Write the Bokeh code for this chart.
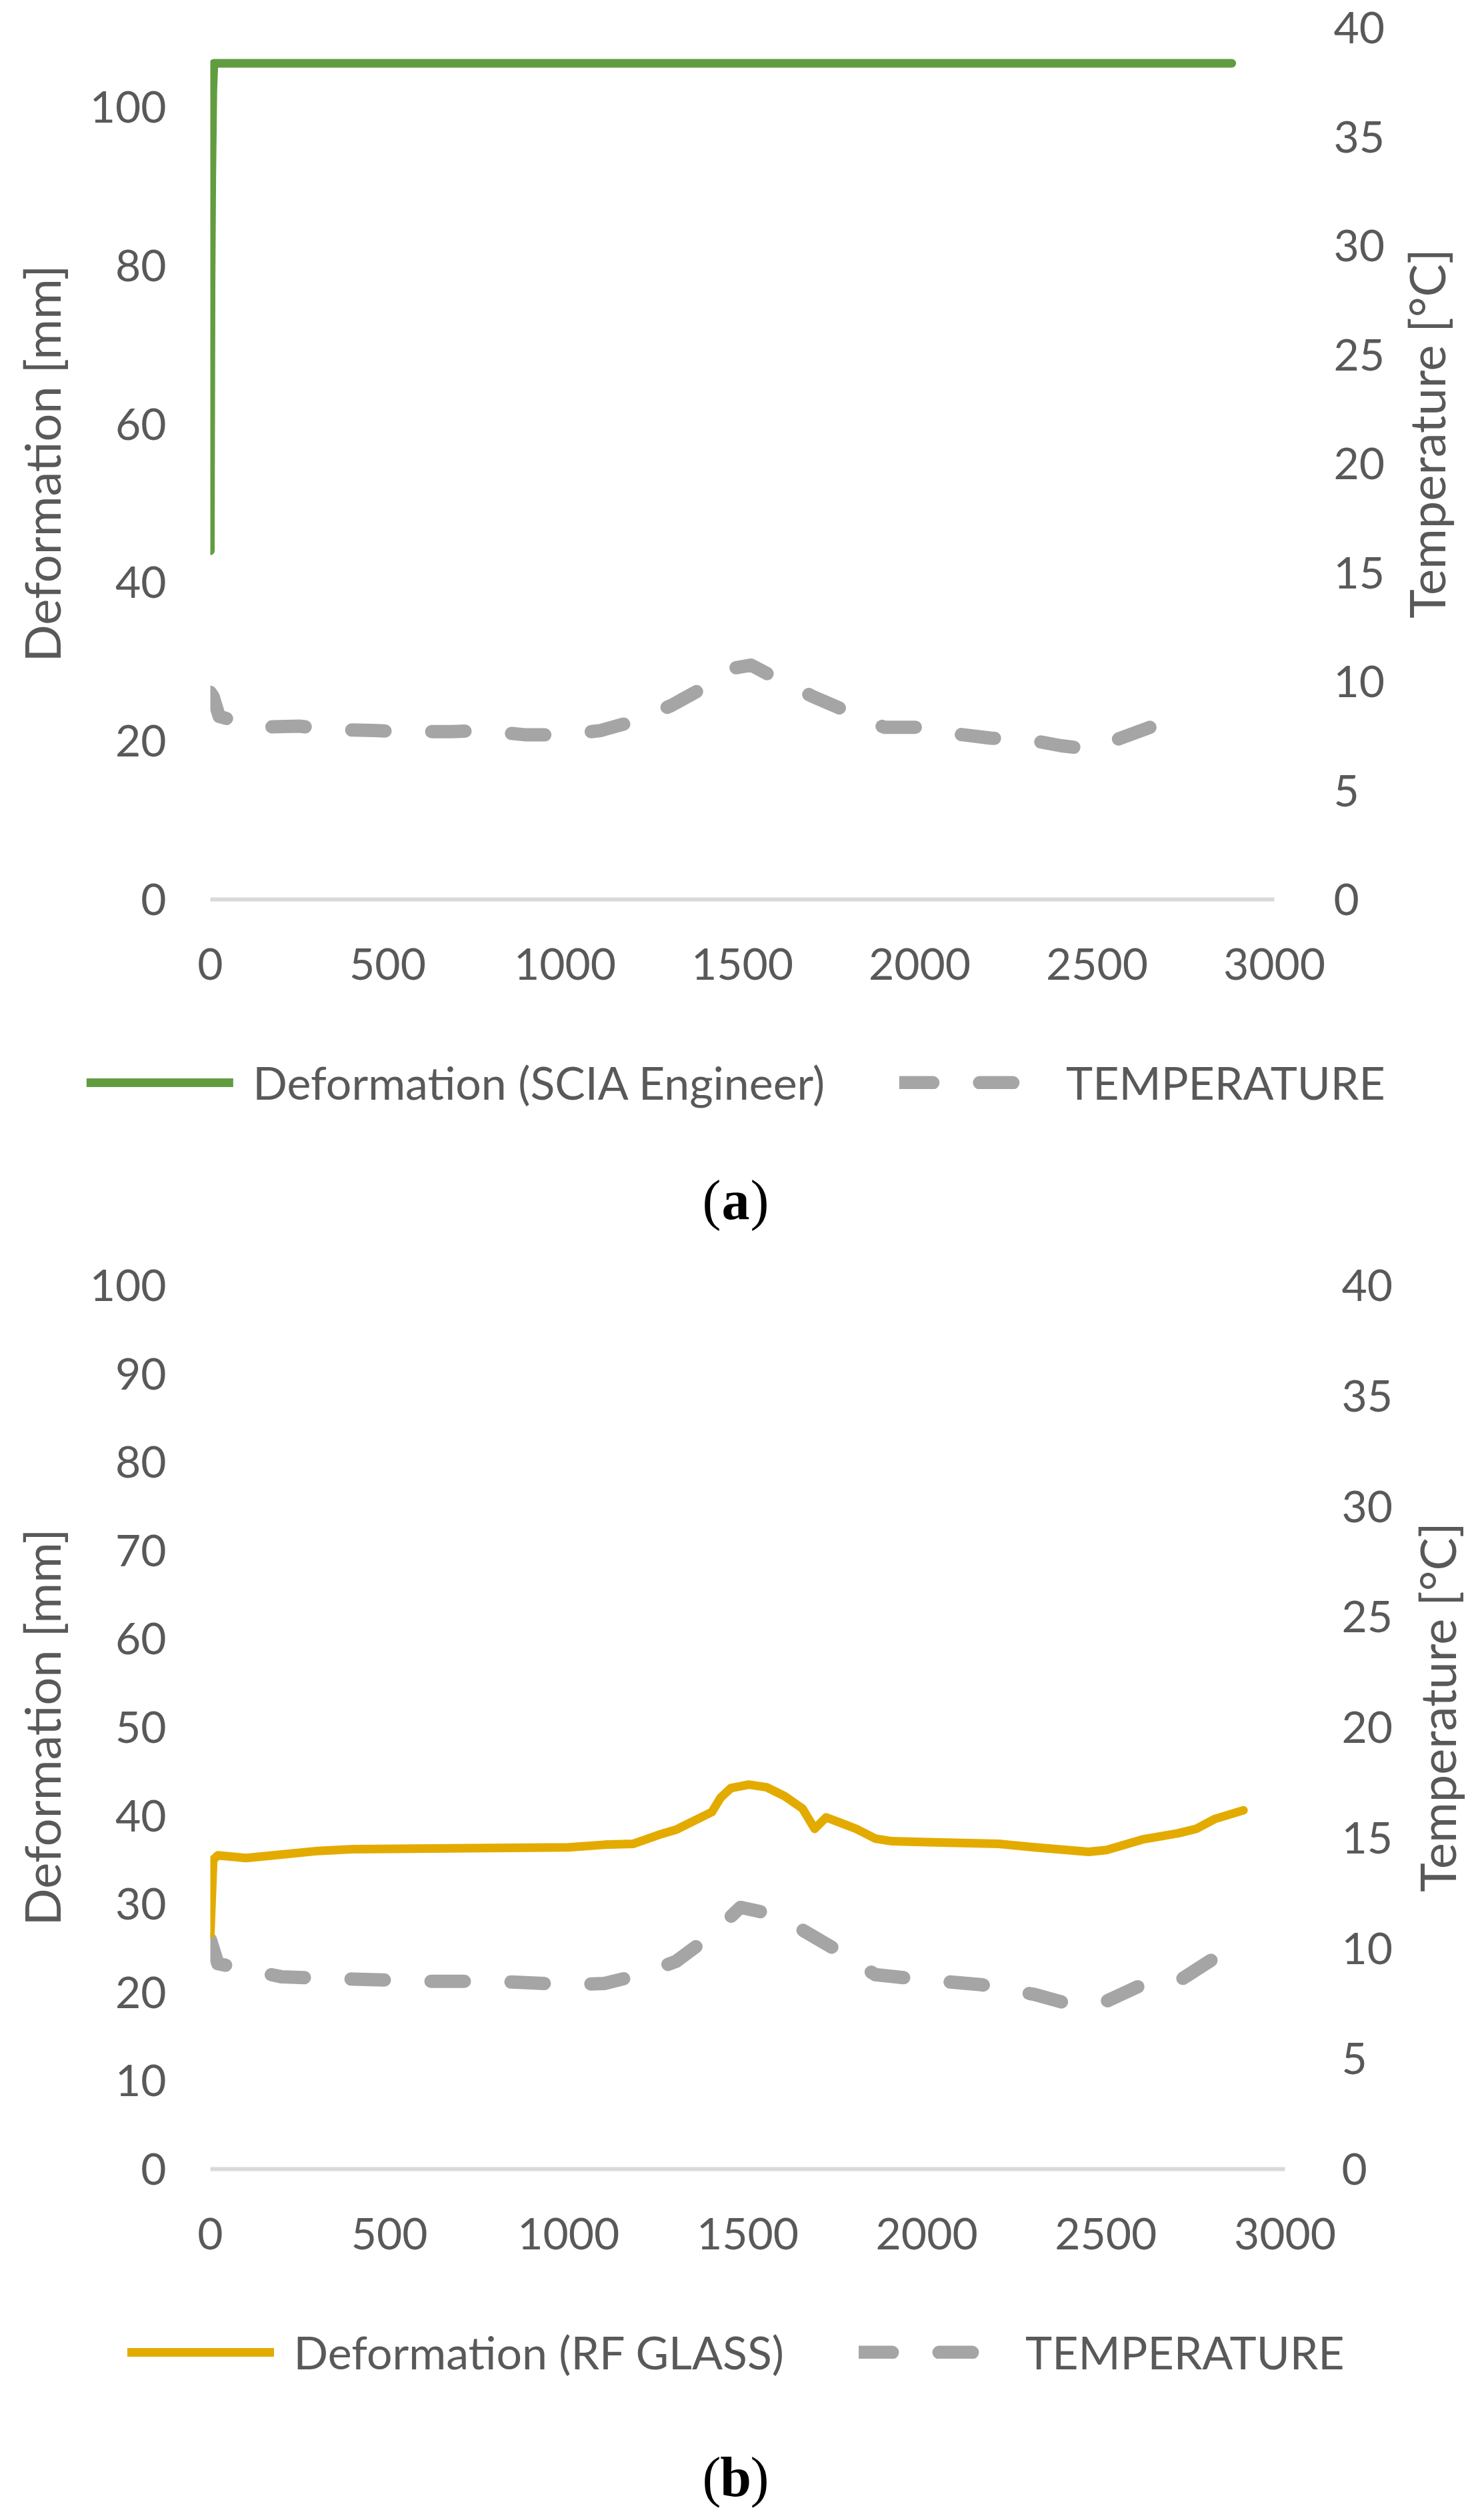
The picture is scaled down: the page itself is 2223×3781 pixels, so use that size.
import numpy as np
from bokeh.plotting import figure
from bokeh.models import Range1d, LinearAxis, Legend, LegendItem, FixedTicker
from bokeh.layouts import column, row
from bokeh.core.properties import value
from bokeh.embed import file_html
from bokeh.resources import INLINE

# ---------------- data ----------------
X_TICKS = [0, 500, 1000, 1500, 2000, 2500, 3000]
TEMP_TICKS = [0, 5, 10, 15, 20, 25, 30, 35, 40]
DEF_TICKS_A = [0, 20, 40, 60, 80, 100]
DEF_TICKS_B = [0, 10, 20, 30, 40, 50, 60, 70, 80, 90, 100]

SCIA_X = [0, 2, 4, 7, 10, 2880]
SCIA_Y = [44.0, 78.0, 91.0, 102.0, 105.5, 105.5]

TEMP_A_X = [0, 8, 25, 130, 250, 340, 460, 540, 680, 770, 890, 1000, 1100, 1200,
            1300, 1400, 1470, 1525, 1600, 1700, 1800, 1900, 2000, 2100, 2200,
            2300, 2400, 2480, 2550, 2650, 2770]
TEMP_A_Y = [9.5, 9.3, 8.4, 7.9, 7.95, 7.8, 7.75, 7.7, 7.7, 7.75, 7.55, 7.55, 7.75, 8.2,
            8.9, 9.8, 10.6, 10.75, 10.1, 9.3, 8.6, 7.9, 7.9, 7.6, 7.4,
            7.35, 7.05, 6.9, 7.3, 7.9, 8.4]

RF_X = [0, 8, 21, 100, 200, 300, 400, 1000, 1100, 1180, 1250, 1300, 1400, 1424,
        1453, 1503, 1553, 1603, 1653, 1687, 1719, 1803, 1856, 1903, 2004, 2201,
        2302, 2452, 2502, 2602, 2702, 2752, 2803, 2884]
RF_Y = [26.6, 35.0, 35.5, 35.2, 35.6, 36.0, 36.2, 36.4, 36.7, 36.8, 37.8, 38.4, 40.4, 42.0,
        43.1, 43.5, 43.2, 42.2, 40.8, 38.5, 39.8, 38.5, 37.4, 37.1, 37.0, 36.8,
        36.4, 35.9, 36.1, 37.3, 38.0, 38.5, 39.6, 40.6]

TEMP_B_X = [0, 21, 200, 400, 600, 800, 1000, 1100, 1200, 1300, 1400, 1480, 1550, 1650,
            1750, 1856, 2004, 2151, 2302, 2402, 2502, 2602, 2702, 2803]
TEMP_B_Y = [10.4, 9.3, 8.7, 8.6, 8.5, 8.5, 8.35, 8.4, 8.8, 9.4, 10.6, 11.85, 11.6, 10.85,
            9.9, 8.8, 8.55, 8.35, 7.9, 7.45, 7.6, 8.35, 8.5, 9.55]

# ---------------- style ----------------
FONT = "Lato"
TXT = "#595959"
TICK_FS = "66px"
LEG_FS = "68px"
TITLE_FS = "74px"
W = 2207
TEMP_STYLE = dict(line_color="#A5A5A5", line_width=20, line_dash="50 70",
                  line_cap="round", line_join="round")


def blank_fig(width, height):
    f = figure(width=width, height=height, output_backend="svg", toolbar_location=None,
               x_range=Range1d(0, width), y_range=Range1d(0, height),
               x_axis_location=None, y_axis_location=None, title=None,
               min_border=0, min_border_left=0, min_border_right=0,
               min_border_top=0, min_border_bottom=0)
    f.grid.visible = False
    f.outline_line_color = None
    return f


def make_chart(dx, dy, dcolor, tx, ty, left_max, left_ticks, width, height,
               b_top, b_right, std_right):
    p = figure(width=width, height=height, output_backend="svg", toolbar_location=None,
               x_range=Range1d(0, 3000), y_range=Range1d(0, left_max),
               min_border_left=315, min_border_right=b_right,
               min_border_top=b_top, min_border_bottom=150)
    p.outline_line_color = None
    p.grid.visible = False
    p.extra_y_ranges = {"temp": Range1d(0, 40)}

    xa = p.xaxis[0]
    xa.ticker = FixedTicker(ticks=X_TICKS)
    xa.axis_line_color = "#D9D9D9"
    xa.axis_line_width = 6
    xa.major_tick_line_color = None
    xa.minor_tick_line_color = None
    xa.major_label_text_font = FONT
    xa.major_label_text_font_size = TICK_FS
    xa.major_label_text_color = TXT
    xa.major_label_standoff = 67

    ya = p.yaxis[0]
    ya.ticker = FixedTicker(ticks=left_ticks)
    ya.axis_line_color = None
    ya.major_tick_line_color = None
    ya.minor_tick_line_color = None
    ya.major_label_text_font = FONT
    ya.major_label_text_font_size = TICK_FS
    ya.major_label_text_color = TXT
    ya.major_label_standoff = 60
    ya.axis_label = "Deformation [mm]"
    ya.axis_label_text_font = FONT
    ya.axis_label_text_font_size = TITLE_FS
    ya.axis_label_text_font_style = "normal"
    ya.axis_label_text_color = TXT
    ya.axis_label_standoff = 25

    ra = LinearAxis(y_range_name="temp", ticker=FixedTicker(ticks=TEMP_TICKS))
    ra.axis_line_color = None
    ra.major_tick_line_color = None
    ra.minor_tick_line_color = None
    ra.major_label_text_font = FONT
    ra.major_label_text_font_size = TICK_FS
    ra.major_label_text_color = TXT
    ra.major_label_standoff = std_right
    p.add_layout(ra, "right")

    p.line(tx, ty, y_range_name="temp", **TEMP_STYLE)
    p.line(dx, dy, line_color=dcolor, line_width=13, line_cap="round", line_join="round")
    return p


def right_title(width, height, cx, cy):
    f = blank_fig(width, height)
    f.text(x=[cx], y=[cy], text=["Temperature [°C]"], angle=90, angle_units="deg",
           text_align="center", text_baseline="middle", text_font=value(FONT),
           text_font_size=TITLE_FS, text_color=TXT)
    return f


def legend_caption(dlabel, dcolor, height, legend_top, letter, baseline_y):
    f = blank_fig(W, height)
    # style carriers for the legend keys (no visible data)
    nan = np.array([np.nan])
    rd = f.line(x=nan, y=nan, line_color=dcolor, line_width=13, line_cap="round")
    rt = f.line(x=nan, y=nan, **TEMP_STYLE)
    legend = Legend(items=[LegendItem(label=dlabel, renderers=[rd]),
                           LegendItem(label="TEMPERATURE", renderers=[rt])],
                    orientation="horizontal", location="top_center",
                    label_text_font=FONT, label_text_font_size=LEG_FS,
                    label_text_color=TXT, glyph_width=220, glyph_height=20,
                    label_standoff=30, spacing=112, border_line_color=None,
                    background_fill_alpha=0, padding=0, margin=legend_top)
    f.add_layout(legend, "center")
    cx = 1103
    half = 22
    kw = dict(text_font=value("Liberation Serif"), text_font_size="84px",
              text_color="black", text_baseline="alphabetic")
    f.text(x=[cx - half], y=[baseline_y], text=["("], text_align="right", **kw)
    f.text(x=[cx], y=[baseline_y], text=[letter], text_align="center",
           text_font_style="bold", **kw)
    f.text(x=[cx + half], y=[baseline_y], text=[")"], text_align="left", **kw)
    return f


# chart (a): frame 323..1919 x 49..1357 (page px)
WA = 2085
pa = make_chart(SCIA_X, SCIA_Y, "#629C40", TEMP_A_X, TEMP_A_Y, 110, DEF_TICKS_A,
                WA, 1499, 41, WA - 1911, 83)
ta = right_title(W - WA, 1499, 54, 801)
la = legend_caption("Deformation (SCIA Engineer)", "#629C40", 353, 84, "a", 52)

# chart (b): frame 323..1937 x 1936..3262 (page px)
WB = 2092
pb = make_chart(RF_X, RF_Y, "#E3AB00", TEMP_B_X, TEMP_B_Y, 100, DEF_TICKS_B,
                WB, 1552, 76, WB - 1929, 79)
tb = right_title(W - WB, 1552, 63, 811)
lb = legend_caption("Deformation (RF GLASS)", "#E3AB00", 358, 84, "b", 46)

layout = column(row(pa, ta, spacing=0), la, row(pb, tb, spacing=0), lb, spacing=0)
open("out.html", "w").write(file_html(layout, INLINE))
